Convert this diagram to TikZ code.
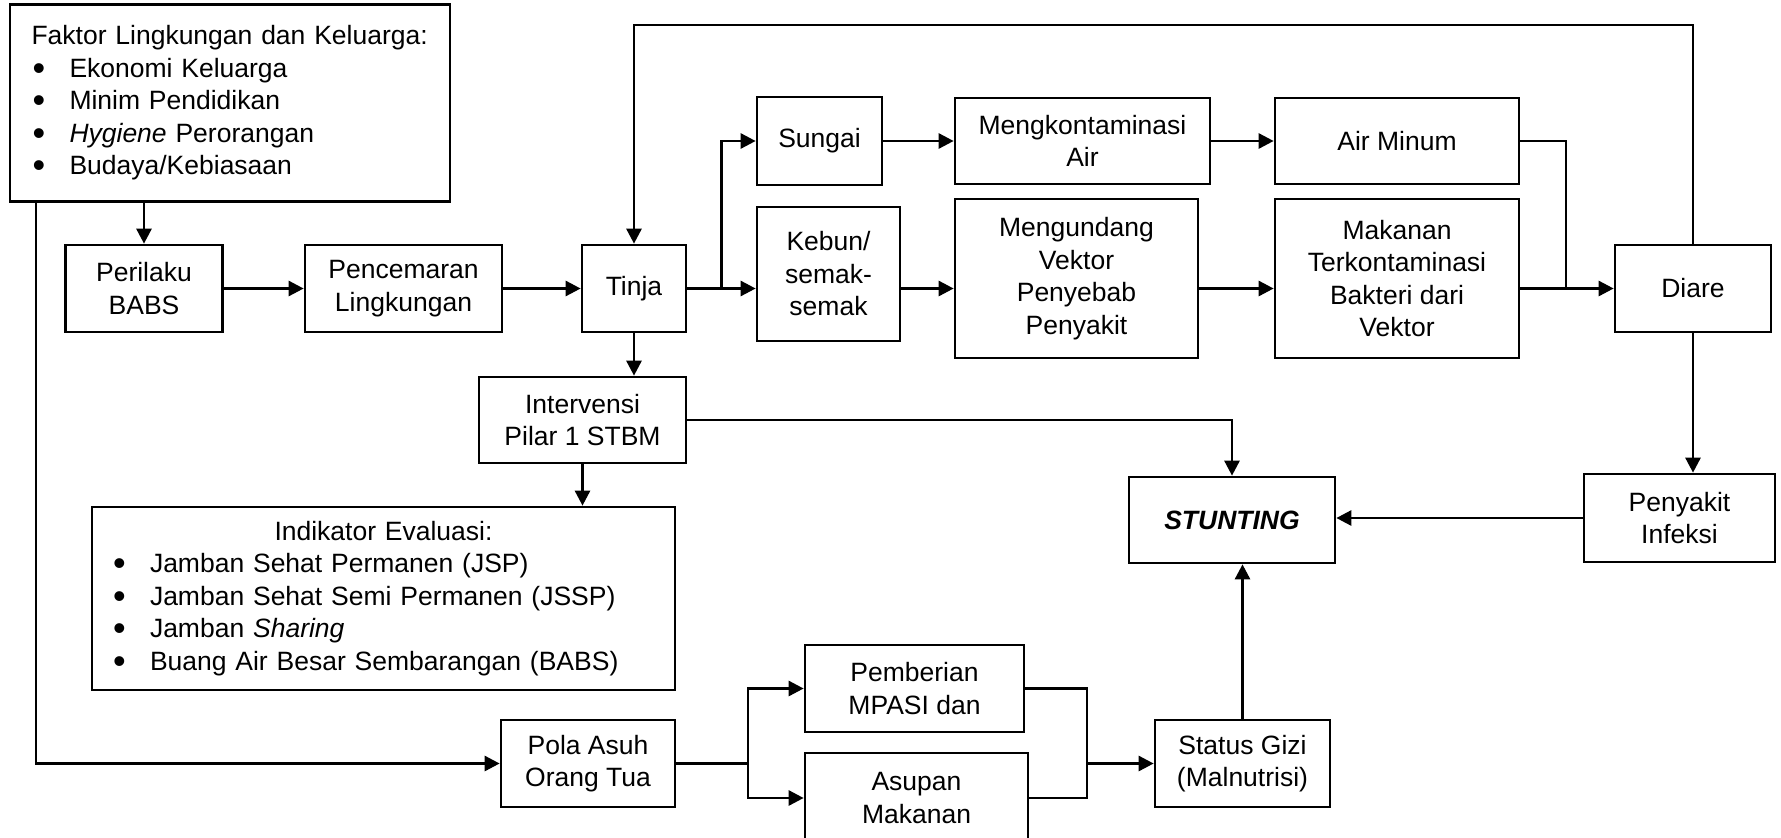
\documentclass[tikz,border=0pt]{standalone}
\usepackage{fontspec}
\setmainfont{Liberation Sans}
\usetikzlibrary{arrows.meta}
\newcommand{\bul}{\makebox[38pt][l]{\hspace{1pt}\raisebox{-3pt}{\fontsize{36pt}{32.5pt}\selectfont\textbullet}}}
\begin{document}
\begin{tikzpicture}[x=1pt,y=-1pt,
  every node/.style={font=\fontsize{26.5pt}{32.5pt}\selectfont},
  box/.style={draw,line width=2.7pt,fill=white,inner sep=0pt,align=center},
  ln/.style={line width=2.7pt},
  arr/.style={line width=2.7pt,-{Triangle[length=15pt,width=15pt]}}]
\useasboundingbox (0,0) rectangle (1781,838);
\fill[white] (0,0) rectangle (1781,838);
\clip (0,0) rectangle (1781,838);
% nodes
\node[box,minimum width=440pt,minimum height=197pt,align=left,text width=397pt] (faktor) at (230,103)
 {Faktor Lingkungan dan Keluarga:\\
  \bul Ekonomi Keluarga\\
  \bul Minim Pendidikan\\
  \bul\textit{Hygiene} Perorangan\\
  \bul Budaya/Kebiasaan};
\node[box,minimum width=157pt,minimum height=87pt] (perilaku) at (144,288.5) {Perilaku\\BABS};
\node[box,minimum width=197pt,minimum height=87pt] (pencemaran) at (403.5,288.5) {Pencemaran\\Lingkungan};
\node[box,minimum width=104pt,minimum height=87pt] (tinja) at (634,288.5) {Tinja};
\node[box,minimum width=125pt,minimum height=88pt] (sungai) at (819.5,141) {Sungai};
\node[box,minimum width=143pt,minimum height=134pt] (kebun) at (828.5,274) {Kebun/\\semak-\\semak};
\node[box,minimum width=255pt,minimum height=86pt] (mengk) at (1082.5,141) {Mengkontaminasi\\Air};
\node[box,minimum width=243pt,minimum height=159pt] (mengundang) at (1076.5,278.5) {Mengundang\\Vektor\\Penyebab\\Penyakit};
\node[box,minimum width=244pt,minimum height=86pt] (airminum) at (1397,141) {Air Minum};
\node[box,minimum width=244pt,minimum height=159pt] (makanan) at (1397,278.5) {Makanan\\Terkontaminasi\\Bakteri dari\\Vektor};
\node[box,minimum width=156pt,minimum height=87pt] (diare) at (1693,288.5) {Diare};
\node[box,minimum width=207pt,minimum height=86pt] (intervensi) at (582.5,420) {Intervensi\\Pilar 1 STBM};
\node[box,minimum width=583pt,minimum height=183pt,align=left,text width=543pt] (indikator) at (383.5,598.5)
 {\makebox[543pt][c]{Indikator Evaluasi:}\\
  \bul Jamban Sehat Permanen (JSP)\\
  \bul Jamban Sehat Semi Permanen (JSSP)\\
  \bul Jamban \textit{Sharing}\\
  \bul Buang Air Besar Sembarangan (BABS)};
\node[box,minimum width=206pt,minimum height=86pt] (stunting) at (1232,520) {\textbf{\textit{STUNTING}}};
\node[box,minimum width=191pt,minimum height=88pt] (penyakit) at (1679.5,518) {Penyakit\\Infeksi};
\node[box,minimum width=174pt,minimum height=87pt] (polaasuh) at (588,763.5) {Pola Asuh\\Orang Tua};
\node[box,minimum width=219pt,minimum height=87pt] (pemberian) at (914.5,688.5) {Pemberian\\MPASI dan};
\node[box,minimum width=223pt,minimum height=90pt] (asupan) at (916.5,798) {Asupan\\Makanan};
\node[box,minimum width=175pt,minimum height=87pt] (statusgizi) at (1242.5,763.5) {Status Gizi\\(Malnutrisi)};
% helper coordinates
\coordinate (lft) at (36,763.5);
\coordinate (br1) at (721.6,288.5);
\coordinate (jn) at (1566,288.5);
\coordinate (top) at (0,25);
\coordinate (b2) at (748,763.5);
\coordinate (b3) at (1087,763.5);
% connectors
\draw[arr] (perilaku.north |- faktor.south) -- (perilaku.north);
\draw[arr] (faktor.south -| lft) -- (lft) -- (polaasuh.west);
\draw[arr] (perilaku.east) -- (pencemaran.west);
\draw[arr] (pencemaran.east) -- (tinja.west);
\draw[arr] (tinja.east) -- (tinja.east -| kebun.west);
\draw[arr] (br1) |- (sungai.west);
\draw[arr] (sungai.east) -- (mengk.west);
\draw[arr] (kebun.east |- tinja.east) -- (mengundang.west |- tinja.east);
\draw[arr] (mengk.east) -- (airminum.west);
\draw[arr] (mengundang.east |- tinja.east) -- (makanan.west |- tinja.east);
\draw[arr] (makanan.east |- diare.west) -- (diare.west);
\draw[ln] (airminum.east) -| (jn);
\draw[arr] (diare.north) -- (diare.north |- top) -- (tinja.north |- top) -- (tinja.north);
\draw[arr] (diare.south) -- (diare.south |- penyakit.north);
\draw[arr] (penyakit.west) -- (penyakit.west -| stunting.east);
\draw[arr] (tinja.south) -- (tinja.south |- intervensi.north);
\draw[arr] (intervensi.south) -- (intervensi.south |- indikator.north);
\draw[arr] (intervensi.east) -| (stunting.north);
\draw[ln] (polaasuh.east) -- (b2);
\draw[arr] (b2) |- (pemberian.west);
\draw[arr] (b2) |- (asupan.west);
\draw[ln] (pemberian.east) -| (b3);
\draw[ln] (asupan.east) -| (b3);
\draw[arr] (b3) -- (statusgizi.west);
\draw[arr] (statusgizi.north) -- (statusgizi.north |- stunting.south);
\end{tikzpicture}
\end{document}
